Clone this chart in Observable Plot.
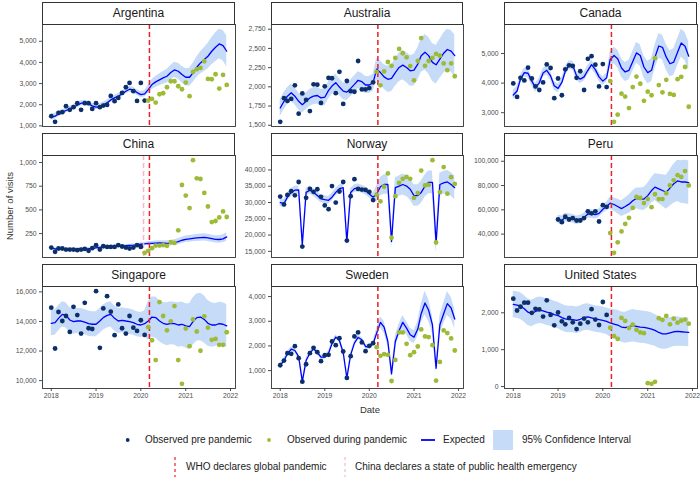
<!DOCTYPE html>
<html><head><meta charset="utf-8">
<script src="https://cdn.jsdelivr.net/npm/d3@7"></script>
<script src="https://cdn.jsdelivr.net/npm/@observablehq/plot@0.6"></script>
<style>
body{margin:0;background:#fff;font-family:"Liberation Sans",Arial,sans-serif;}
#root{position:relative;width:700px;height:477px;overflow:hidden;background:#fff}
.strip{position:absolute;box-sizing:border-box;border:1px solid #333;background:#fff;text-align:center;font-size:12px;color:#1a1a1a;line-height:20px}
.lab{position:absolute;font-size:10px;color:#222;white-space:nowrap;line-height:12px}
</style></head><body><div id="root"></div>
<script>
const countries = ["Argentina","Australia","Canada","China","Norway","Peru","Singapore","Sweden","United States"];
const firstMonth = "2018-01-01";
const whoDate = "2020-03-11";
const chinaDate = "2020-01-23";
const pandemicStart = ["2020-03-01","2020-03-01","2020-03-01","2020-02-01","2020-03-01","2020-03-01","2020-03-01","2020-03-01","2020-03-01"];
const yearTicks = ["2018-01-01","2019-01-01","2020-01-01","2021-01-01","2022-01-01"];
const yTicks = [
  [1000,2000,3000,4000,5000],
  [1500,1750,2000,2250,2500,2750],
  [3000,4000,5000],
  [250,500,750,1000],
  [15000,20000,25000,30000,35000,40000],
  [40000,60000,80000,100000],
  [10000,12000,14000,16000],
  [1000,2000,3000,4000],
  [0,1000,2000]
];

const argentinaObserved = [1457,1189,1614,1646,1929,1756,1882,2071,1756,2071,2071,1803,2071,1882,1961,1992,2417,2165,2323,2559,2827,3031,2638,2181,3031,2197,
  2197,2276,2102,2496,2543,2827,3110,3110,2874,2732,3047,2402,3551,3677,3740,4055,3220,3205,3441,2764,3409,2937];
const argentinaExpected = [1410,1457,1567,1646,1725,1803,1882,1976,2071,2087,2040,1945,1882,1913,1992,2087,2228,2323,2402,2512,2638,2732,2701,2575,2480,2512,
  2717,2953,3079,3173,3268,3347,3520,3646,3583,3425,3299,3299,3504,3772,3976,4134,4291,4528,4717,4874,4795,4528];
const argentinaCI = [150,140,130,120,120,120,120,120,120,120,120,120,120,120,120,120,120,120,120,130,130,130,130,130,140,150,
  200,240,260,280,300,320,340,360,380,390,400,420,450,480,520,560,600,640,680,700,720,740];

const australiaObserved = [1544,1852,1817,1843,2019,1650,1914,1830,1685,2032,2028,1790,2006,2116,2112,1918,2195,1777,2076,1944,1936,2336,1966,1966,1984,2059,
  2195,2019,2200,2323,2274,2376,2494,2437,2384,2270,2085,2336,2635,2274,2336,2376,2428,2406,2305,2217,2305,2138];
const australiaExpected = [1725,1812,1878,1922,1878,1812,1768,1812,1856,1878,1887,1856,1865,1953,2010,2054,1997,1944,1931,1980,2032,2085,2067,2024,2024,2054,
  2230,2186,2129,2098,2111,2186,2252,2283,2252,2208,2217,2296,2406,2450,2406,2318,2287,2362,2437,2486,2464,2406];
const australiaCI = [110,110,110,110,110,110,110,110,110,110,110,110,110,110,110,110,110,110,110,110,110,110,110,110,110,110,
  140,150,160,170,175,180,185,190,195,200,205,210,220,230,240,245,250,255,260,265,270,270];

const canadaObserved = [3989,3533,4178,4089,4522,4155,3889,3767,4022,4633,4511,3489,4155,3589,4466,4600,4578,4178,4400,3767,4822,4911,4622,3889,4644,3867,
  4067,2690,2934,3644,3544,3156,3867,4222,3978,3400,3711,3589,4844,3933,3689,4111,3633,3600,4133,4211,4544,3200];
const canadaExpected = [3600,3733,4133,4355,4333,4067,3845,4011,4344,4433,4244,3911,3822,4022,4400,4600,4600,4244,4133,4211,4433,4622,4455,4211,4067,4178,
  4800,4933,4822,4511,4377,4433,4733,5021,4933,4544,4355,4433,4877,5254,5210,4877,4655,4710,5043,5354,5243,4910];
const canadaCI = [150,150,150,150,150,150,150,150,150,150,150,150,150,150,150,150,150,150,150,150,150,150,150,150,150,150,
  250,280,300,310,320,330,340,350,360,370,380,390,400,410,420,430,440,450,460,470,480,490];

const chinaObserved = [103,58,93,93,82,82,82,75,82,89,68,96,128,82,117,110,110,110,128,114,103,93,103,128,110,
  47,68,96,124,124,128,121,159,152,285,763,651,519,1025,833,826,679,536,372,383,421,484,425];
const chinaExpected = [95,88,88,86,85,84,84,86,88,90,92,95,100,105,108,110,112,115,118,120,122,125,128,132,138,
  142,146,148,150,152,150,148,150,155,165,180,190,195,200,205,208,210,205,198,190,188,195,215];
const chinaCI = [12,12,12,12,12,12,12,12,12,12,12,12,12,12,12,12,12,12,12,12,12,12,12,12,12,
  15,18,20,22,24,25,26,28,30,32,33,34,35,36,37,38,38,38,38,38,40,42,45];

const norwayObserved = [31830,29400,32320,33490,32220,36310,16460,31440,34170,33290,34070,31740,29110,27940,35040,29980,33390,36310,18310,31930,37180,34170,33970,33880,33290,30760,
  32400,30370,34850,38940,19180,31930,36020,37280,37870,37280,31440,32900,39810,35240,35430,43020,17720,33200,40880,32710,37770,35720];
const norwayExpected = [29980,29690,31640,33100,33780,33880,17040,33100,33780,33100,32120,31150,30860,30670,31640,33100,34270,34560,18020,33100,34270,34460,34070,33580,32610,31640,
  32610,34850,35530,35530,18020,34560,35040,35530,35040,34070,32120,32120,33100,35040,36210,36210,17530,35530,36020,36310,35530,34560];
const norwayCI = [1200,1200,1200,1200,1200,1200,1200,1200,1200,1200,1200,1200,1200,1200,1200,1200,1200,1200,1200,1200,1200,1200,1200,1200,1200,1200,
  2500,2800,3000,3000,2500,3000,3100,3200,3200,3300,3300,3300,3400,3400,3500,3500,3000,3500,3500,3600,3600,3600];

const peruObserved = [null,null,null,null,null,null,null,null,null,null,null,null,
  52060,49820,54310,52060,53180,51220,51220,53180,58790,57110,58790,50380,63840,62440,
  40840,24570,33270,42240,48420,53460,61600,70570,69730,65530,68890,62160,72820,68890,68890,73660,80110,84320,88530,87130,91890,80110];
const peruExpected = [null,null,null,null,null,null,null,null,null,null,null,null,
  52060,51500,53740,53180,52620,51500,52060,53740,56550,56550,55990,57110,60480,62720,
  65530,64400,62720,61040,62720,64680,67490,69450,68890,68890,71700,75900,78710,77310,75900,74500,77870,81510,83760,82920,82920,82360];
const peruCI = [null,null,null,null,null,null,null,null,null,null,null,null,
  3500,3500,3500,3500,3500,3500,3500,3500,3500,3500,3500,3500,3500,3500,
  5000,5500,6000,6500,7000,7500,8000,8500,9000,9500,10000,10500,11000,12000,13000,14000,15000,16000,17000,17500,18000,18000];

const singaporeObserved = [14930,12170,14640,14030,14370,13290,14990,14430,13180,15260,13540,13490,16050,12220,14880,15710,14660,13070,15150,13540,13180,14370,13580,13360,14080,13090,
  13610,12730,11390,15310,14370,13400,14010,15040,11390,9780,13520,12330,14140,13320,12020,14350,13580,12760,12820,12420,12420,13270];
const singaporeExpected = [13875,13920,14210,14480,14410,14100,13990,14030,14030,13960,13850,13810,13810,14030,14260,14410,14480,14210,14030,14080,14030,13990,13920,13810,13760,13850,
  14030,14300,14260,14030,13875,13810,13875,13850,13760,13810,13700,13650,13990,14260,14300,14140,13875,13760,13760,13850,13810,13700];
const singaporeCI = [850,850,850,850,850,850,850,850,850,850,850,850,850,850,850,850,850,850,850,850,850,850,850,850,850,850,
  1300,1350,1400,1400,1400,1450,1450,1450,1500,1500,1500,1550,1600,1600,1600,1600,1550,1500,1450,1450,1450,1450];

const swedenObserved = [1217,1407,1706,1679,1990,1502,552,1258,1706,1923,1746,1380,1624,1638,2180,2031,2316,1774,701,1584,2384,2547,2140,1787,2004,2113,
  1950,1597,1665,1638,579,1434,2547,2547,2086,1624,1746,1977,2669,2384,2357,2031,593,1353,2628,2520,2303,1814];
const swedenExpected = [1217,1407,1679,1869,1814,1570,552,1407,1706,1882,1733,1543,1543,1706,2086,2357,2221,1733,701,1638,2113,2343,2248,1977,1950,2086,
  2520,2954,2764,2180,864,2180,2628,2954,2723,2452,2357,2683,3307,3741,3443,2859,1095,2859,3307,3714,3538,3090];
const swedenCI = [90,90,90,90,90,90,90,90,90,90,90,90,90,90,90,90,90,90,90,90,90,90,90,90,90,90,
  200,230,240,200,150,230,260,280,270,260,260,300,380,480,440,350,200,350,420,480,450,400];

const usObserved = [2384,2063,2164,2274,2274,1999,2109,2091,1898,2338,1944,1660,2008,1770,1687,1862,1742,1559,1706,1843,1742,2100,1816,1669,2293,1944,
  1596,1366,1293,1862,1779,1586,1678,1541,1467,1449,92,73,128,1852,1806,1917,1687,1843,1733,1788,1816,1706];
const usExpected = [2228,2210,2182,2109,2017,1981,2036,2072,2054,2017,1999,1953,1926,1871,1834,1816,1816,1797,1825,1871,1889,1862,1834,1816,1797,1770,
  1724,1696,1669,1614,1596,1623,1651,1632,1614,1605,1586,1559,1522,1467,1431,1431,1458,1486,1495,1486,1476,1467];
const usCI = [360,360,360,360,360,360,360,360,360,360,360,360,360,360,360,360,360,360,360,360,360,360,360,360,360,360,
  380,390,400,410,420,430,440,440,440,440,440,440,430,430,420,420,410,400,400,390,390,390];

const series = [
  [argentinaObserved, argentinaExpected, argentinaCI],
  [australiaObserved, australiaExpected, australiaCI],
  [canadaObserved, canadaExpected, canadaCI],
  [chinaObserved, chinaExpected, chinaCI],
  [norwayObserved, norwayExpected, norwayCI],
  [peruObserved, peruExpected, peruCI],
  [singaporeObserved, singaporeExpected, singaporeCI],
  [swedenObserved, swedenExpected, swedenCI],
  [usObserved, usExpected, usCI]
].map(([o, e, h], k) => ({name: countries[k], observed: o, expected: e, ci: h, start: pandemicStart[k], ticks: yTicks[k]}));

const navy = "#0b2f6b", green = "#9dbb37", blue = "#0000ff", ciFill = "#c6dbf7", red = "#f01e26", pink = "#f6b8c0";
const colLeft = [42, 271, 504], colRight = [235, 463, 697];
const rowTop = [2, 133, 264], stripH = 22, plotH = 102, ML = 40;
const root = document.getElementById("root");

series.forEach((s, k) => {
  const r = Math.floor(k / 3), c = k % 3;
  const t0 = new Date(firstMonth);
  const rows = s.observed.map((v, i) => {
    const e = s.expected[i], h = s.ci[i];
    return {date: d3.utcMonth.offset(t0, i), observed: v, expected: e,
      lo: e == null ? null : e - h, hi: e == null ? null : e + h};
  });
  const ps = new Date(s.start);
  const pre = rows.filter(d => d.observed != null && d.date < ps);
  const post = rows.filter(d => d.observed != null && d.date >= ps);
  const exp = rows.filter(d => d.expected != null);
  const vals = rows.flatMap(d => [d.observed, d.lo, d.hi]).filter(v => v != null);
  const [ymin, ymax] = d3.extent(vals);
  const pad = (ymax - ymin) * 0.05;
  const ta = rows[0].date, tb = rows[rows.length - 1].date, tp = (tb - ta) * 0.05;
  const pw = colRight[c] - colLeft[c];
  const bottom = r === 2;
  const marks = [
    Plot.areaY(exp, {x: "date", y1: "lo", y2: "hi", fill: ciFill}),
    Plot.line(exp, {x: "date", y: "expected", stroke: blue, strokeWidth: 1.3})
  ];
  if (s.name === "China") marks.push(Plot.ruleX([new Date(chinaDate)], {stroke: pink, strokeDasharray: "5,3", strokeWidth: 1.5}));
  marks.push(
    Plot.ruleX([new Date(whoDate)], {stroke: red, strokeDasharray: "5,3", strokeWidth: 1.5}),
    Plot.dot(pre, {x: "date", y: "observed", fill: navy, r: 2.4}),
    Plot.dot(post, {x: "date", y: "observed", fill: green, r: 2.4}),
    Plot.frame({stroke: "#333", strokeWidth: 0.9})
  );
  const mb = bottom ? 16 : 0;
  const svg = Plot.plot({
    width: ML + pw, height: plotH + mb,
    marginLeft: ML, marginRight: 0, marginTop: 0, marginBottom: mb,
    x: {type: "utc", domain: [new Date(+ta - tp), new Date(+tb + tp)], axis: bottom ? "bottom" : null,
        ticks: yearTicks.map(d => new Date(d)), tickFormat: d3.utcFormat("%Y"), tickSize: 3, tickPadding: 2, label: null},
    y: {domain: [ymin - pad, ymax + pad], ticks: s.ticks, tickFormat: d3.format(","), tickSize: 3, tickPadding: 3, label: null},
    style: {fontSize: "6.8px", fontFamily: "'Liberation Sans', Arial, sans-serif", color: "#4d4d4d", background: "transparent", overflow: "visible"},
    marks
  });
  svg.style.position = "absolute";
  svg.style.left = (colLeft[c] - ML) + "px";
  svg.style.top = (rowTop[r] + stripH) + "px";
  root.appendChild(svg);
  const strip = document.createElement("div");
  strip.className = "strip";
  strip.style.left = colLeft[c] + "px";
  strip.style.top = rowTop[r] + "px";
  strip.style.width = pw + "px";
  strip.style.height = (stripH + 1) + "px";
  strip.textContent = s.name;
  root.appendChild(strip);
});

function addLabel(text, left, top, extra) {
  const d = document.createElement("div");
  d.className = "lab";
  d.textContent = text;
  d.style.left = left + "px";
  d.style.top = top + "px";
  if (extra) Object.assign(d.style, extra);
  root.appendChild(d);
  return d;
}
addLabel("Date", 350, 404, {width: "40px", textAlign: "center", fontSize: "9.5px", color: "#333"});
addLabel("Number of visits", -40, 200, {width: "100px", textAlign: "center", fontSize: "9.5px", color: "#333", transform: "rotate(-90deg)"});

const legendKeys = document.createElementNS("http://www.w3.org/2000/svg", "svg");
legendKeys.setAttribute("width", 700); legendKeys.setAttribute("height", 60);
legendKeys.style.position = "absolute"; legendKeys.style.left = "0px"; legendKeys.style.top = "420px";
legendKeys.innerHTML = `
  <circle cx="127.7" cy="20" r="1.9" fill="${navy}"/>
  <circle cx="269" cy="20" r="1.9" fill="${green}"/>
  <line x1="421" x2="435" y1="20" y2="20" stroke="${blue}" stroke-width="1.8"/>
  <rect x="493" y="10" width="20" height="20" fill="${ciFill}"/>
  <line x1="175" x2="175" y1="37" y2="57" stroke="${red}" stroke-width="1.2" stroke-dasharray="3,3"/>
  <line x1="345" x2="345" y1="37" y2="57" stroke="${pink}" stroke-width="1.2" stroke-dasharray="3,3"/>`;
root.appendChild(legendKeys);
addLabel("Observed pre pandemic", 145, 434);
addLabel("Observed during pandemic", 287, 434);
addLabel("Expected", 443, 434);
addLabel("95% Confidence Interval", 522, 434);
addLabel("WHO declares global pandemic", 186, 461);
addLabel("China declares a state of public health emergency", 355, 461);
</script></body></html>
